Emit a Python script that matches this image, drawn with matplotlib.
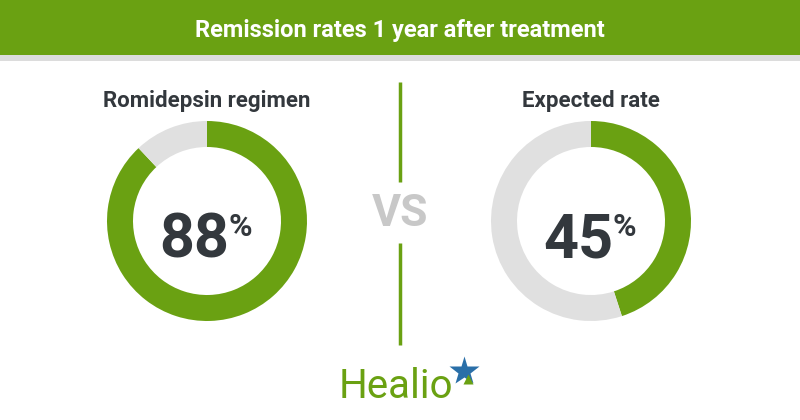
import matplotlib.pyplot as plt
from matplotlib.patches import Rectangle

# data
title = 'Remission rates 1 year after treatment'
groups = ['Romidepsin regimen', 'Expected rate']
rates = [88, 45]

green = '#6aa112'
ring_gray = '#e0e0e0'
dark = '#33383d'

W, H = 800, 420
fig = plt.figure(figsize=(8, 4.2), dpi=100)

# background axes in pixel coords
bg = fig.add_axes([0, 0, 1, 1])
bg.set_xlim(0, W)
bg.set_ylim(H, 0)
bg.axis('off')

bg.add_patch(Rectangle((0, 0), W, 55, color=green, lw=0))
bg.add_patch(Rectangle((0, 55), W, 6, color='#dcdcdc', lw=0))
bg.text(W / 2, 30, title, ha='center', va='center', color='white',
        fontsize=17, fontweight='bold',
        family=['Liberation Sans Narrow', 'Roboto', 'DejaVu Sans'])

# divider + vs
bg.plot([400, 400], [82, 182], color=green, lw=2.5, solid_capstyle='butt')
bg.plot([400, 400], [243, 345], color=green, lw=2.5, solid_capstyle='butt')
bg.text(400, 214, 'VS', ha='center', va='center', color='#c8c8c8',
        fontsize=32, fontweight='bold', family='Roboto')

centers = [207, 591]
r_out, r_in = 100, 74
for cx, name, v in zip(centers, groups, rates):
    bg.text(cx, 107, name, ha='center', va='baseline', color=dark,
            fontsize=16, fontweight='bold', family='Roboto')
    ax = fig.add_axes([(cx - r_out) / W, (H - 221 - r_out) / H,
                       2 * r_out / W, 2 * r_out / H])
    ax.pie([v, 100 - v], startangle=90, counterclock=False,
           colors=[green, ring_gray],
           wedgeprops=dict(width=(r_out - r_in) / r_out, edgecolor='none'))
    ax.set_xlim(-1, 1)
    ax.set_ylim(-1, 1)
    ax.axis('off')
    bg.text(cx - 13, 257, str(v), ha='center', va='baseline', color=dark,
            fontsize=44, fontweight='bold', family='Roboto', zorder=5)
    bg.text(cx + 22, 236, '%', ha='left', va='baseline', color=dark,
            fontsize=23, fontweight='bold', family='Roboto', zorder=5)

# logo
bg.text(339, 398, 'Healio', ha='left', va='baseline', color=green,
        fontsize=29, family='Roboto')
bg.plot([464], [371], marker='*', color='#2a6fa8', markersize=22, mec='none')
bg.plot([468], [379], marker='^', color=green, markersize=7, mec='none')

fig.savefig('out.png', dpi=100)
